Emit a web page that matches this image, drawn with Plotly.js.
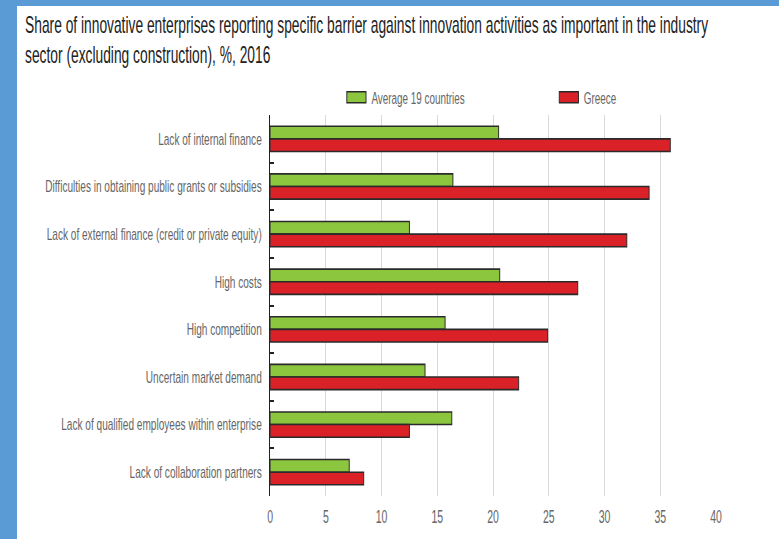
<!DOCTYPE html>
<html>
<head>
<meta charset="utf-8">
<script src="https://cdn.plot.ly/plotly-3.0.1.min.js"></script>
<style>
html,body{margin:0;padding:0;overflow:hidden;background:#fff;width:779px;height:539px;}
#wrap{position:absolute;left:0;top:0;width:1298px;height:539px;transform:scaleX(0.60015);transform-origin:0 0;}
#blueL{position:absolute;left:0;top:0;width:17px;height:539px;background:#5B9BD5;}
#blueT{position:absolute;left:0;top:0;width:779px;height:6px;background:#5B9BD5;}
</style>
</head>
<body>
<div id="wrap"><div id="chart"></div></div>
<div id="blueL"></div>
<div id="blueT"></div>
<script>
const categories = [
  "Lack of internal finance",
  "Difficulties in obtaining public grants or subsidies",
  "Lack of external finance (credit or private equity)",
  "High costs",
  "High competition",
  "Uncertain market demand",
  "Lack of qualified employees within enterprise",
  "Lack of collaboration partners"
];
const average19 = [20.5, 16.4, 12.5, 20.6, 15.7, 13.9, 16.3, 7.1];
const greece = [35.9, 34.0, 32.0, 27.6, 24.9, 22.3, 12.5, 8.4];
const seriesNames = ["Average 19 countries", "Greece"];
const xTicks = [0, 5, 10, 15, 20, 25, 30, 35, 40];

const FONT = "Liberation Sans, Arial, sans-serif";
const W = 1298, H = 539;

const traces = [
  {type:'bar', orientation:'h', name:seriesNames[0], y:categories, x:average19,
   marker:{color:'#8CC63F', line:{color:'#2a2a2a', width:1.6}}},
  {type:'bar', orientation:'h', name:seriesNames[1], y:categories, x:greece,
   marker:{color:'#DA2128', line:{color:'#2a2a2a', width:1.6}}}
];

const layout = {
  width:W, height:H,
  margin:{l:450, r:105, t:114, b:43, pad:0},
  paper_bgcolor:'#ffffff', plot_bgcolor:'#ffffff',
  font:{family:FONT, size:16.5, color:'#666666'},
  title:{
    text:"Share of innovative enterprises reporting specific barrier against innovation activities as important in the industry<br>sector (excluding construction), %, 2016",
    font:{family:FONT, size:23, color:'#222222'},
    x:0.0321, xanchor:'left', xref:'container',
    y:0.938, yanchor:'top', yref:'container'
  },
  barmode:'group', bargap:0.47, bargroupgap:0,
  showlegend:true,
  legend:{orientation:'h', x:0.160, xanchor:'left', y:0.819, yanchor:'middle', yref:'container',
          font:{family:FONT, size:16.5, color:'#666666'}, itemwidth:40, entrywidth:299,
          bgcolor:'rgba(0,0,0,0)', traceorder:'normal'},
  xaxis:{range:[0,40], tickvals:xTicks, ticktext:xTicks.map(String), showgrid:true, gridcolor:'#d9d9d9', gridwidth:1.7,
         zeroline:false, showline:false, ticks:'', tickfont:{family:FONT, size:17.5, color:'#666666'},
         ticklabelstandoff:9, fixedrange:true},
  yaxis:{type:'category', autorange:'reversed', showline:true, linecolor:'#222222', linewidth:2.5,
         ticks:'inside', tickson:'boundaries', ticklen:6, tickwidth:2, tickcolor:'#222222',
         showgrid:false, zeroline:false, tickfont:{family:FONT, size:16.8, color:'#666666'},
         ticklabelstandoff:8, fixedrange:true}
};

Plotly.newPlot('chart', traces, layout, {staticPlot:true, displayModeBar:false}).then(function(gd){
  gd.querySelectorAll('.legend .legendpoints path').forEach(function(p){
    p.setAttribute('d','M16,5.5H-16V-5.5H16Z');
  });
});
</script>
</body>
</html>
